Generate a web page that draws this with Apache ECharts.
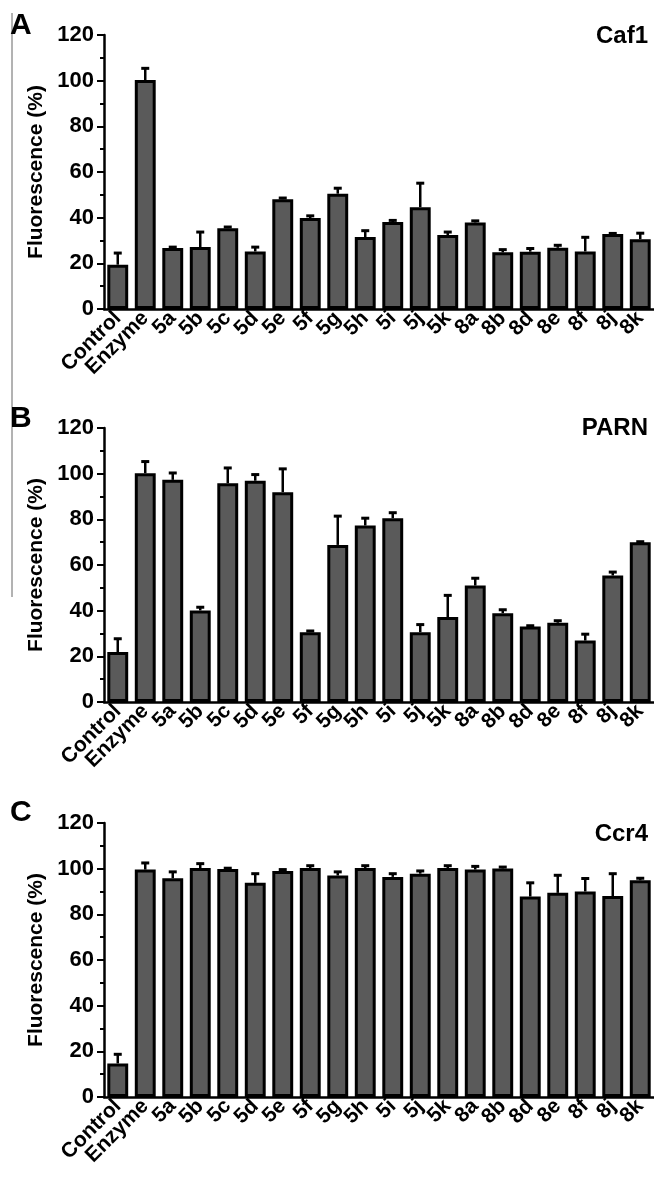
<!DOCTYPE html>
<html>
<head>
<meta charset="utf-8">
<script src="https://cdn.jsdelivr.net/npm/echarts@6/dist/echarts.min.js"></script>
<style>
  html, body { margin: 0; padding: 0; background: #fff; }
  #chart { width: 654px; height: 1180px; }
</style>
</head>
<body>
<div id="chart"></div>
<script>
const categories = ['Control', 'Enzyme', '5a', '5b', '5c', '5d', '5e', '5f', '5g', '5h', '5i', '5j', '5k', '8a', '8b', '8d', '8e', '8f', '8j', '8k'];

const caf1Mean = [19.4, 100.3, 26.7, 27.1, 35.4, 25.2, 48.1, 39.8, 50.5, 31.5, 38.1, 44.6, 32.4, 37.9, 24.8, 25.1, 26.8, 25.2, 32.8, 30.6];
const caf1Err = [5.1, 5.1, 0.4, 6.6, 0.5, 1.9, 0.5, 1.0, 2.4, 2.8, 0.7, 10.5, 1.3, 0.7, 1.2, 1.4, 1.1, 6.2, 0.3, 2.6];

const parnMean = [21.9, 100.2, 97.3, 40.1, 95.8, 96.9, 91.9, 30.6, 68.8, 77.3, 80.5, 30.6, 37.2, 51.0, 38.9, 33.1, 34.7, 26.9, 55.4, 70.0];
const parnErr = [5.8, 5.1, 3.0, 1.4, 6.7, 2.7, 10.2, 0.5, 12.6, 3.2, 2.4, 3.3, 9.5, 3.2, 1.5, 0.3, 0.9, 2.8, 1.5, 0.2];

const ccr4Mean = [14.7, 99.6, 95.8, 100.3, 99.9, 93.8, 99.0, 100.3, 97.0, 100.3, 96.4, 97.8, 100.3, 99.6, 100.1, 87.8, 89.4, 90.0, 88.0, 94.9];
const ccr4Err = [4.0, 2.9, 2.8, 1.9, 0.3, 4.0, 0.6, 1.0, 1.6, 1.0, 1.4, 1.2, 1.0, 1.4, 0.6, 6.0, 7.7, 5.7, 9.8, 0.9];

const yTicks = [0, 20, 40, 60, 80, 100, 120];

const panels = [
    { letter: 'A', name: 'Caf1', mean: caf1Mean, err: caf1Err, top: 35, letterY: 26, nameY: 37 },
    { letter: 'B', name: 'PARN', mean: parnMean, err: parnErr, top: 428, letterY: 419, nameY: 429 },
    { letter: 'C', name: 'Ccr4', mean: ccr4Mean, err: ccr4Err, top: 823, letterY: 813, nameY: 835 },
];

const FONT = '"Liberation Sans", Arial, sans-serif';
const chart = echarts.init(document.getElementById('chart'), null, { renderer: 'canvas' });

const grid = [];
const xAxis = [];
const yAxis = [];
const series = [];
const graphic = [
    // thin grey rule along the left edge of the figure
    { type: 'line', shape: { x1: 12, y1: 13, x2: 12, y2: 597 }, style: { stroke: '#666', lineWidth: 1 } },
];

panels.forEach((p, i) => {
    grid.push({ left: 104, right: 0, top: p.top, height: 274 });
    xAxis.push({
        type: 'category',
        gridIndex: i,
        data: categories,
        axisLine: { lineStyle: { color: '#000', width: 2.5 } },
        axisTick: { alignWithLabel: true, interval: 0, length: 7, lineStyle: { color: '#000', width: 2 } },
        axisLabel: {
            interval: 0,
            rotate: 45,
            margin: 6,
            color: '#000',
            fontFamily: FONT,
            fontWeight: 'bold',
            fontSize: 21,
        },
    });
    yAxis.push({
        type: 'value',
        gridIndex: i,
        min: 0,
        max: 120,
        interval: 20,
        name: 'Fluorescence (%)',
        nameLocation: 'middle',
        nameGap: 54,
        nameTextStyle: { color: '#000', fontFamily: FONT, fontWeight: 'bold', fontSize: 21 },
        splitLine: { show: false },
        axisLine: { show: true, lineStyle: { color: '#000', width: 2.5 } },
        axisTick: { show: true, length: 7, lineStyle: { color: '#000', width: 2 } },
        minorTick: { show: true, splitNumber: 2, length: 4, lineStyle: { color: '#000', width: 2 } },
        axisLabel: {
            margin: 10,
            color: '#000',
            fontFamily: FONT,
            fontWeight: 'bold',
            fontSize: 22,
            formatter: (v) => (yTicks.includes(v) ? String(v) : ''),
        },
    });
    series.push({
        type: 'bar',
        xAxisIndex: i,
        yAxisIndex: i,
        data: p.mean,
        barCategoryGap: '24%',
        itemStyle: { color: '#5a5a5a', borderColor: '#000', borderWidth: 3 },
        silent: true,
        z: 2,
    });
    series.push({
        type: 'custom',
        xAxisIndex: i,
        yAxisIndex: i,
        data: p.mean.map((m, k) => [k, m, m + p.err[k]]),
        encode: { x: 0, y: [1, 2] },
        silent: true,
        z: 3,
        renderItem: (params, api) => {
            const base = api.coord([api.value(0), api.value(1)]);
            const top = api.coord([api.value(0), api.value(2)]);
            const half = 4;
            return {
                type: 'group',
                children: [
                    { type: 'line', shape: { x1: base[0], y1: base[1], x2: top[0], y2: top[1] }, style: { stroke: '#000', lineWidth: 2.5 } },
                    { type: 'line', shape: { x1: top[0] - half, y1: top[1], x2: top[0] + half, y2: top[1] }, style: { stroke: '#000', lineWidth: 3 } },
                ],
            };
        },
    });
    graphic.push({
        type: 'text',
        left: 10,
        top: p.letterY - 15,
        style: { text: p.letter, fill: '#000', font: 'bold 30px ' + FONT },
    });
    graphic.push({
        type: 'text',
        right: 6,
        top: p.nameY - 13,
        style: { text: p.name, fill: '#000', font: 'bold 24px ' + FONT },
    });
});

chart.setOption({
    animation: false,
    backgroundColor: '#fff',
    grid,
    xAxis,
    yAxis,
    series,
    graphic,
});
</script>
</body>
</html>
